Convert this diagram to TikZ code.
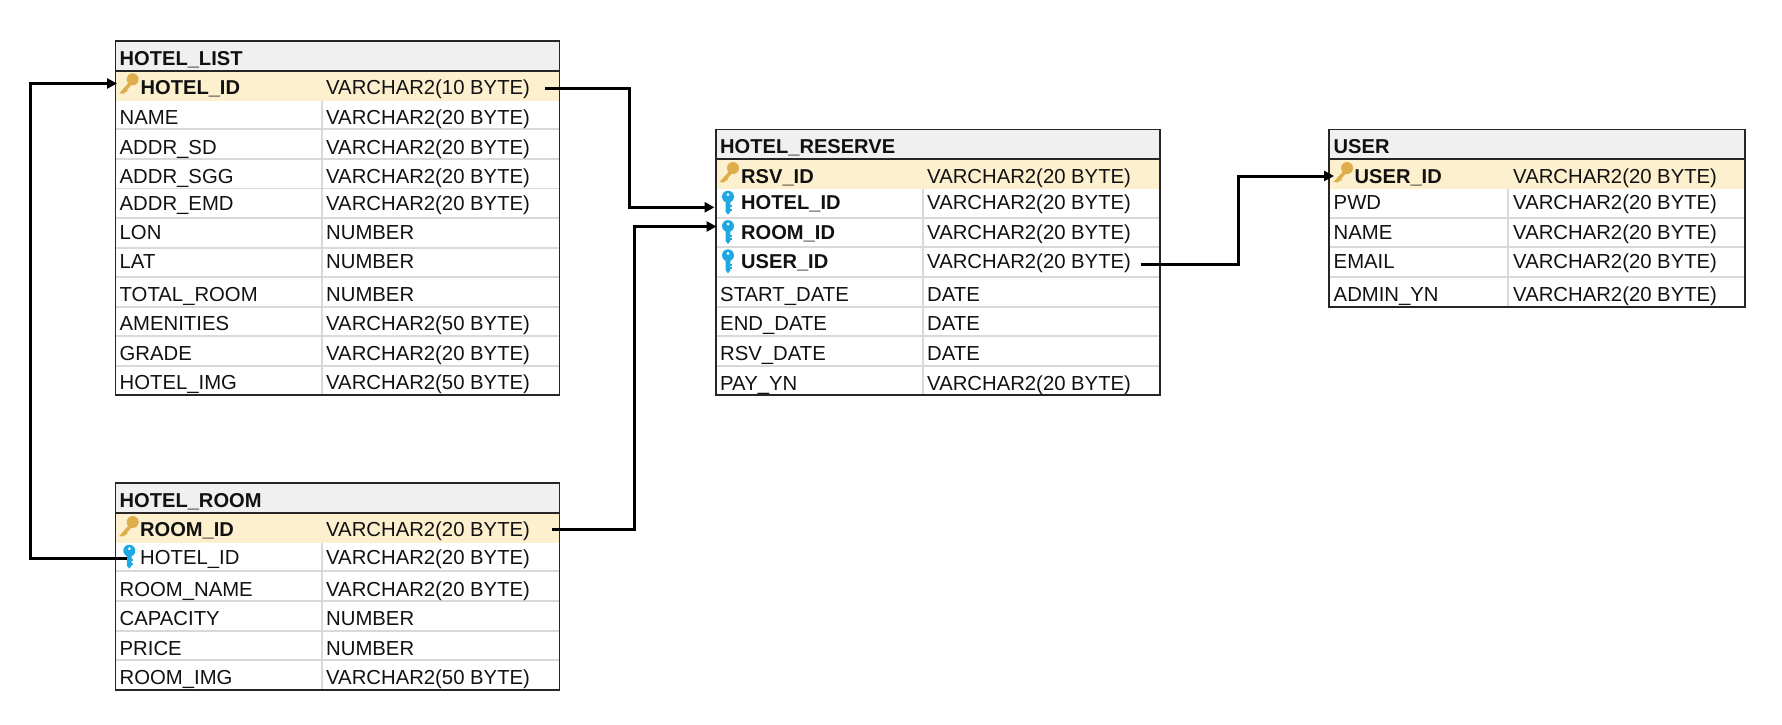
\documentclass[tikz,border=0pt]{standalone}
\usepackage{fontspec}
\setmainfont{Liberation Sans}
\usetikzlibrary{arrows.meta}
\definecolor{headgray}{HTML}{F0F0F0}
\definecolor{keyrow}{HTML}{FDF0CF}
\definecolor{gridgray}{HTML}{D9D9D9}
\definecolor{goldkey}{HTML}{DFAE4C}
\definecolor{bluekey}{HTML}{1FA9E3}
\definecolor{inkblack}{HTML}{111111}
\tikzset{
  pics/pkey/.style={code={
    \fill[goldkey] (-1,0) -- (1.5,2.5) -- (-9,14.5) -- (-13.5,14) -- cycle;
    \fill[goldkey] (-8.5,9) -- (-5,11.5) -- (-7,13) -- (-10,11) -- cycle;
    \fill[goldkey] (0,0) circle (6pt);
  }},
  pics/fkey/.style={code={
    \fill[bluekey] (-2.4,3) -- (2.4,3) -- (2.4,15) -- (0,18) -- (-2.4,15) -- cycle;
    \draw[bluekey, line width=2pt] (0,9.5) -- (3.6,9.5) (0,13) -- (3.6,13);
    \fill[bluekey] (0,0) circle (6pt);
    \fill[white] (0,-2) circle (1.5pt);
  }}
}
\begin{document}
\begin{tikzpicture}[x=1pt, y=-1pt, every node/.style={inner sep=0pt, anchor=base west, text=inkblack, font=\fontsize{20.3pt}{24pt}\selectfont},
  colbold/.style={font=\fontsize{20.1pt}{24pt}\selectfont\bfseries},
  headfill/.style={fill=headgray},
  keyfill/.style={fill=keyrow},
  rowline/.style={draw=gridgray, line width=1.8pt},
  frameline/.style={draw=black!85, line width=1.7pt},
  fk/.style={-{Triangle[length=10pt, width=10pt]}, line width=3pt, black}]
\useasboundingbox (0,0) rectangle (1782,725);

% Table backgrounds
\fill[headfill] (115.5,41) rectangle (559.5,70.7);
\fill[keyfill] (115.5,70.7) rectangle (559.5,100.7);
\fill[headfill] (115.5,483) rectangle (559.5,513);
\fill[keyfill] (115.5,513) rectangle (559.5,543);
\fill[headfill] (716,129.5) rectangle (1160,159.3);
\fill[keyfill] (716,159.3) rectangle (1160,189.2);
\fill[headfill] (1329.3,129.5) rectangle (1745.3,159.3);
\fill[keyfill] (1329.3,159.3) rectangle (1745.3,189.2);

% Grid lines
\foreach \y in {129.3,159.3,188.5,217.7,247.7,277,306.7,336,365.7}
  \draw[rowline] (115.5,\y) -- (559.5,\y);
\foreach \y in {571.3,601.3,630.7,660.3}
  \draw[rowline] (115.5,\y) -- (559.5,\y);
\foreach \y in {217.7,247.3,276.7,306.7,336,365.7}
  \draw[rowline] (716,\y) -- (1160,\y);
\foreach \y in {217.7,247,276.7}
  \draw[rowline] (1329.3,\y) -- (1745.3,\y);
\draw[rowline] (322.3,100.7) -- (322.3,395);
\draw[rowline] (322.3,543) -- (322.3,690);
\draw[rowline] (922.7,189.2) -- (922.7,395);
\draw[rowline] (1508.3,189.2) -- (1508.3,306.7);

% Frames
\draw[frameline] (115.5,41) rectangle (559.5,395) (115.5,70.7) -- (559.5,70.7);
\draw[frameline] (115.5,483) rectangle (559.5,690) (115.5,513) -- (559.5,513);
\draw[frameline] (716,129.5) rectangle (1160,395) (716,159.3) -- (1160,159.3);
\draw[frameline] (1329.3,129.5) rectangle (1745.3,306.7) (1329.3,159.3) -- (1745.3,159.3);

% HOTEL_LIST
\node[colbold] (list) at (119.5,65.5) {HOTEL\_LIST};
\node[colbold] (list-hotelid) at (140.5,94) {HOTEL\_ID};
\pic at (132.7,79.3) {pkey};
\foreach \colname/\coltype/\y [count=\i] in {
  /VARCHAR2(10 BYTE)/94,
  NAME/VARCHAR2(20 BYTE)/124.3,
  ADDR\_SD/VARCHAR2(20 BYTE)/154,
  ADDR\_SGG/VARCHAR2(20 BYTE)/183.5,
  ADDR\_EMD/VARCHAR2(20 BYTE)/210,
  LON/NUMBER/239.3,
  LAT/NUMBER/268.7,
  TOTAL\_ROOM/NUMBER/301,
  AMENITIES/VARCHAR2(50 BYTE)/330.7,
  GRADE/VARCHAR2(20 BYTE)/360,
  HOTEL\_IMG/VARCHAR2(50 BYTE)/389.3}
{
  \node (list-name-\i) at (119.5,\y) {\colname};
  \node (list-type-\i) at (326,\y) {\coltype};
}

% HOTEL_ROOM
\node[colbold] (room) at (119.5,507.3) {HOTEL\_ROOM};
\node[colbold] (room-roomid) at (140,536.7) {ROOM\_ID};
\pic at (132.7,522) {pkey};
\foreach \colname/\coltype/\y [count=\i] in {
  /VARCHAR2(20 BYTE)/536.7,
  /VARCHAR2(20 BYTE)/564,
  ROOM\_NAME/VARCHAR2(20 BYTE)/596,
  CAPACITY/NUMBER/625.5,
  PRICE/NUMBER/655,
  ROOM\_IMG/VARCHAR2(50 BYTE)/684.5}
{
  \node (room-name-\i) at (119.5,\y) {\colname};
  \node (room-type-\i) at (326,\y) {\coltype};
}
\node (room-hotelid) at (140,564) {HOTEL\_ID};

% HOTEL_RESERVE
\node[colbold] (rsv) at (720,153.8) {HOTEL\_RESERVE};
\node[colbold] (rsv-rsvid) at (741,183.2) {RSV\_ID};
\node[colbold] (rsv-hotelid) at (741,209.7) {HOTEL\_ID};
\node[colbold] (rsv-roomid) at (741,239) {ROOM\_ID};
\node[colbold] (rsv-userid) at (741,268.3) {USER\_ID};
\pic at (733,168) {pkey};
\foreach \y in {196.7,226,255.3}
  \pic at (728,\y) {fkey};
\foreach \colname/\coltype/\y [count=\i] in {
  /VARCHAR2(20 BYTE)/183.2,
  /VARCHAR2(20 BYTE)/209.7,
  /VARCHAR2(20 BYTE)/239,
  /VARCHAR2(20 BYTE)/268.3,
  START\_DATE/DATE/301.5,
  END\_DATE/DATE/330.8,
  RSV\_DATE/DATE/360.5,
  PAY\_YN/VARCHAR2(20 BYTE)/390}
{
  \node (rsv-name-\i) at (720,\y) {\colname};
  \node (rsv-type-\i) at (927,\y) {\coltype};
}

% USER
\node[colbold] (user) at (1333.5,153.8) {USER};
\node[colbold] (user-userid) at (1354.5,183.2) {USER\_ID};
\pic at (1347,168) {pkey};
\foreach \colname/\coltype/\y [count=\i] in {
  /VARCHAR2(20 BYTE)/183.2,
  PWD/VARCHAR2(20 BYTE)/209.3,
  NAME/VARCHAR2(20 BYTE)/239,
  EMAIL/VARCHAR2(20 BYTE)/268.3,
  ADMIN\_YN/VARCHAR2(20 BYTE)/301}
{
  \node (user-name-\i) at (1333.5,\y) {\colname};
  \node (user-type-\i) at (1513,\y) {\coltype};
}

% Connectors
\pic at (129.3,550.7) {fkey};
\coordinate (list-out) at (545,88);
\coordinate (list-in) at (117,83.5);
\coordinate (room-out) at (551.6,529);
\coordinate (room-fk) at (127,558.5);
\coordinate (rsv-in-hotel) at (714.5,207.3);
\coordinate (rsv-in-room) at (716.5,226.5);
\coordinate (rsv-out) at (1140.7,264.7);
\coordinate (user-in) at (1334,176);

\draw[fk] (list-out) -- ++(84.3,0) |- (rsv-in-hotel);
\draw[fk] (room-out) -- ++(82.4,0) |- (rsv-in-room);
\draw[fk] (room-fk) -- ++(-96.7,0) |- (list-in);
\draw[fk] (rsv-out) -- ++(97.6,0) |- (user-in);

\end{tikzpicture}
\end{document}
